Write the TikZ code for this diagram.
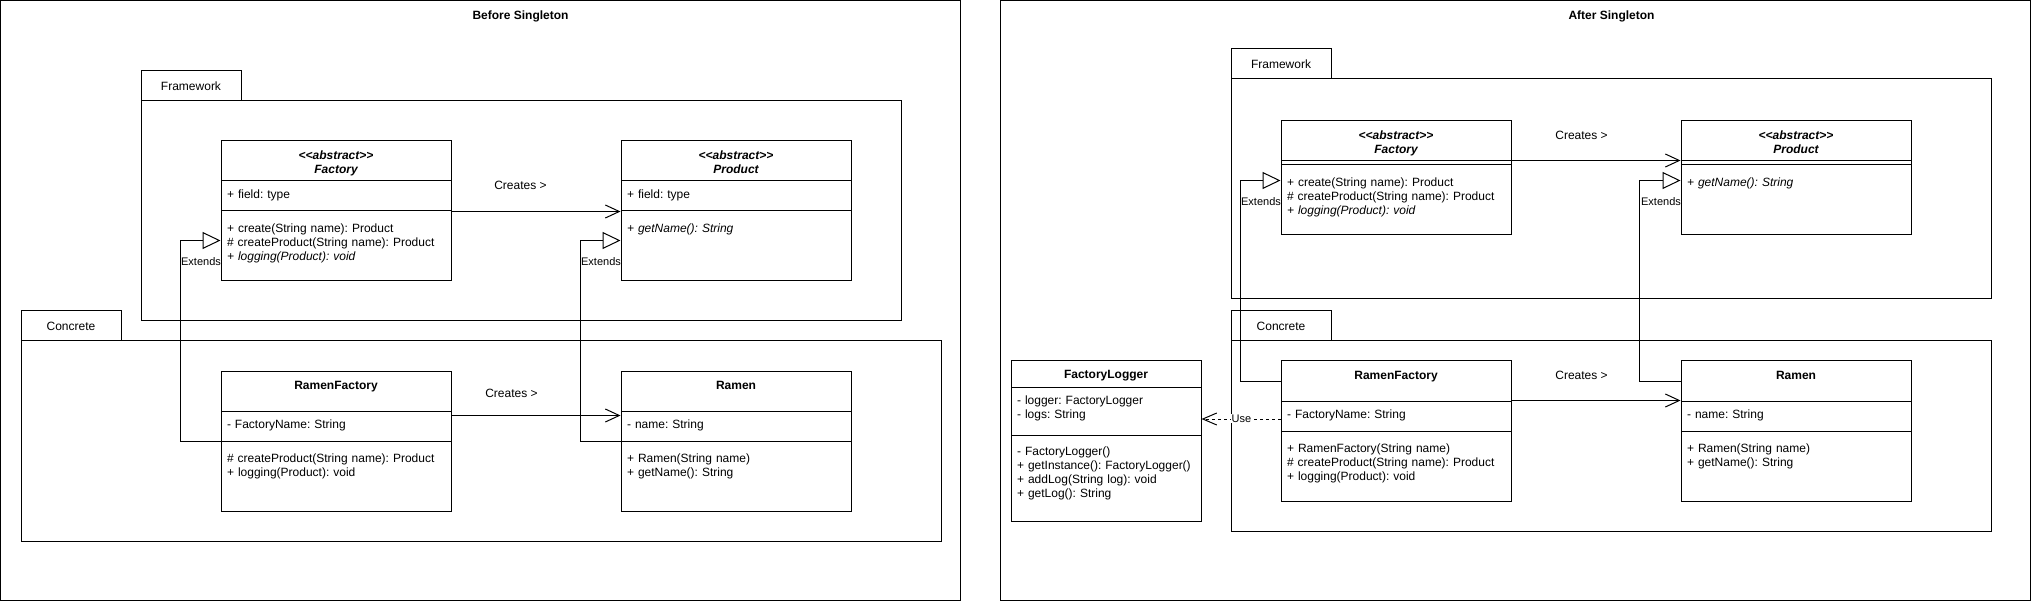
\documentclass[tikz,border=0pt]{standalone}
\usepackage{fontspec}
\setmainfont{Liberation Sans}
\usetikzlibrary{arrows.meta}
\frenchspacing

\begin{document}
\begin{tikzpicture}[x=1pt,y=-1pt,
        every node/.style={font=\fontsize{12}{14}\selectfont},
        frame/.style={draw, line width=1pt},
        frametitle/.style={anchor=base, font=\fontsize{12}{14}\selectfont\bfseries},
        pkgtab/.style={draw, line width=1pt, anchor=north west, minimum width=100pt, minimum height=30pt, inner sep=0pt},
        pkgbody/.style={draw, line width=1pt, anchor=north west, inner sep=0pt},
        clshead/.style={draw, line width=1pt, anchor=north west, inner xsep=0pt, inner ysep=0pt, text width=230pt, align=center, font=\fontsize{12}{14}\selectfont\bfseries, text height=18.3pt, text depth=21.7pt},
        clsattr/.style={draw, line width=1pt, anchor=north west, inner xsep=6pt, inner ysep=0pt, text width=218pt, align=left, text height=17.5pt, text depth=12.5pt},
        clsmeth/.style={clsattr, text height=21.5pt, text depth=48.5pt},
        clsgap/.style={clsattr, text height=4pt, text depth=0pt},
        lbl/.style={font=\fontsize{11}{13}\selectfont, inner sep=1pt},
        creates/.style={line width=1pt, -{Straight Barb[length=14pt,width=13pt]}},
        extends/.style={line width=1pt, -{Triangle[open,length=18pt,width=17pt]}},
        uses/.style={line width=1pt, dash pattern=on 3pt off 3pt, -{Straight Barb[length=14pt,width=12pt]}}]
        \fill[white] (-0.5,-0.5) rectangle (2030.5,600.5);
        \useasboundingbox (-0.5,-0.5) rectangle (2030.5,600.5);

        \draw[frame] (0,0) rectangle (960,600);
        \node[frametitle] (before) at (520,19.5) {Before Singleton};

        \node[pkgtab] (fwTabL) at (140,70) {Framework};
        \node[pkgbody, minimum width=760pt, minimum height=220pt] (fwL) at (140,100) {};
        \node[pkgtab] (coTabL) at (20,310) {Concrete};
        \node[pkgbody, minimum width=920pt, minimum height=200pt] (coL) at (20,340) {};

        \node[clshead] (facHL) at (220,140) {\itshape <{}<abstract>{}>\\Factory};
        \node[clsattr] (facAL) at (220,180) {+ field: type};
        \node[clsmeth] (facML) at (220,210) {+ create(String name): Product\\\# createProduct(String name): Product\\\textit{+ logging(Product): void}};

        \node[clshead] (proHL) at (620,140) {\itshape <{}<abstract>{}>\\Product};
        \node[clsattr] (proAL) at (620,180) {+ field: type};
        \node[clsmeth] (proML) at (620,210) {\textit{+ getName(): String}};

        \node[clshead] (rfHL) at (220,370) {RamenFactory};
        \node[clsattr] (rfAL) at (220,410) {- FactoryName: String};
        \node[clsmeth] (rfML) at (220,440) {\# createProduct(String name): Product\\+ logging(Product): void};

        \node[clshead] (raHL) at (620,370) {Ramen};
        \node[clsattr] (raAL) at (620,410) {- name: String};
        \node[clsmeth] (raML) at (620,440) {+ Ramen(String name)\\+ getName(): String};

        \draw[creates] (facAL.south east) -- (proAL.south west);
        \node (cr1L) at (520,185) {Creates >};
        \draw[creates] ([yshift=-5pt]rfAL.north east) -- ([yshift=-5pt]raAL.north west);
        \node (cr2L) at (511,393) {Creates >};
        \draw[extends] (rfAL.south west) -- ++(-40,0) |- ([yshift=-30pt]facML.north west);
        \node[lbl] (ex1L) at (200.5,261) {Extends};
        \draw[extends] (raAL.south west) -- ++(-40,0) |- ([yshift=-30pt]proML.north west);
        \node[lbl] (ex2L) at (600.5,261) {Extends};

        \draw[frame] (1000,0) rectangle (2030,600);
        \node[frametitle] (after) at (1611,19.5) {After Singleton};

        \node[pkgtab] (fwTabR) at (1230,48) {Framework};
        \node[pkgbody, minimum width=760pt, minimum height=220pt] (fwR) at (1230,78) {};
        \node[pkgtab] (coTabR) at (1230,310) {Concrete};
        \node[pkgbody, minimum width=760pt, minimum height=190pt] (coR) at (1230,340) {};

        \node[clshead] (facHR) at (1280,120) {\itshape <{}<abstract>{}>\\Factory};
        \node[clsgap] (facAR) at (1280,160) {};
        \node[clsmeth] (facMR) at (1280,164) {+ create(String name): Product\\\# createProduct(String name): Product\\\textit{+ logging(Product): void}};

        \node[clshead] (proHR) at (1680,120) {\itshape <{}<abstract>{}>\\Product};
        \node[clsgap] (proAR) at (1680,160) {};
        \node[clsmeth] (proMR) at (1680,164) {\textit{+ getName(): String}};

        \node[clshead] (rfHR) at (1280,360) {RamenFactory};
        \node[clsattr] (rfAR) at (1280,400) {- FactoryName: String};
        \node[clsmeth] (rfMR) at (1280,430) {+ RamenFactory(String name)\\\# createProduct(String name): Product\\+ logging(Product): void};

        \node[clshead] (raHR) at (1680,360) {Ramen};
        \node[clsattr] (raAR) at (1680,400) {- name: String};
        \node[clsmeth] (raMR) at (1680,430) {+ Ramen(String name)\\+ getName(): String};

        \node[clshead, text width=190pt, text height=17.3pt, text depth=8.7pt] (flH) at (1010,360) {FactoryLogger};
        \node[clsattr, text width=178pt, text height=17pt, text depth=31pt] (flA) at (1010,386) {- logger: FactoryLogger\\- logs: String};
        \node[clsmeth, text width=178pt, text height=20.7pt, text depth=65.3pt] (flM) at (1010,434) {- FactoryLogger()\\+ getInstance(): FactoryLogger()\\+ addLog(String log): void\\+ getLog(): String};

        \draw[creates] (facAR.north east) -- (proAR.north west);
        \node (cr1R) at (1581,135) {Creates >};
        \draw[creates] (rfAR.north east) -- (raAR.north west);
        \node (cr2R) at (1581,375) {Creates >};
        \draw[extends] (rfHR.west) -- ++(-40,0) |- ([yshift=-16pt]facMR.north west);
        \node[lbl] (ex1R) at (1260.5,201) {Extends};
        \draw[extends] (raHR.west) -- ++(-41,0) |- ([yshift=-16pt]proMR.north west);
        \node[lbl] (ex2R) at (1660.5,201) {Extends};
        \draw[uses] (rfAR.west) ++(0,3) coordinate (useFrom) -- (useFrom -| flA.east);
        \node[lbl, fill=white] (useR) at (1241,418) {Use};
\end{tikzpicture}
\end{document}
